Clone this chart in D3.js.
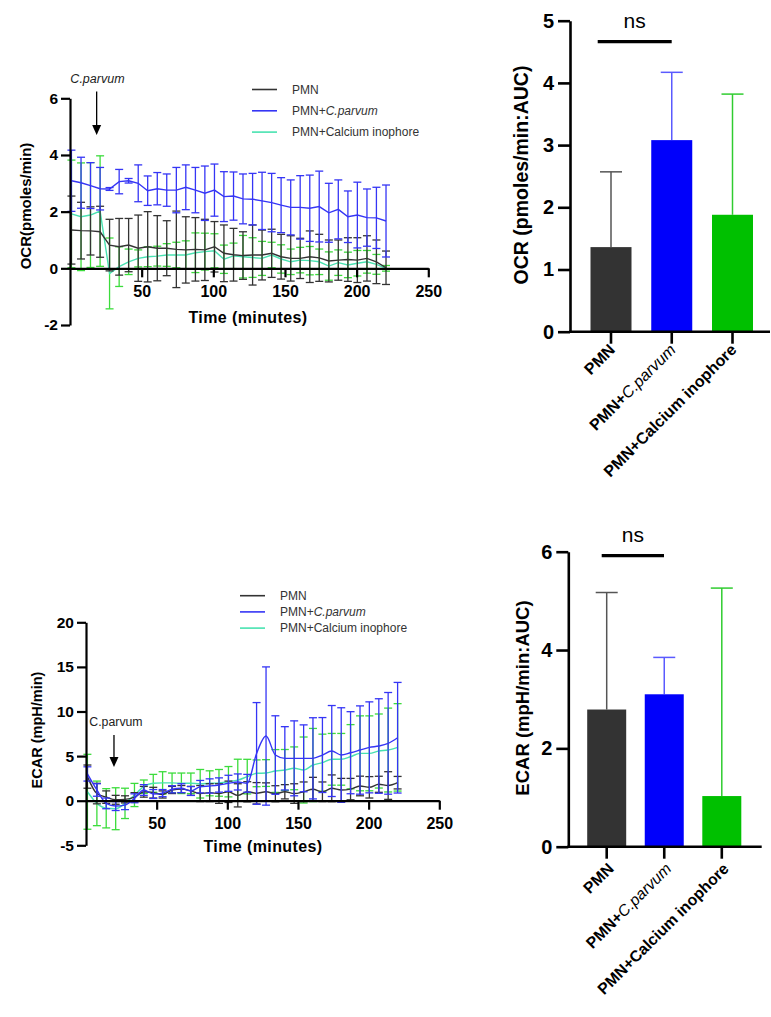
<!DOCTYPE html>
<html><head><meta charset="utf-8">
<script src="https://cdn.jsdelivr.net/npm/d3@7"></script>
<style>body{margin:0;background:#fff} svg text{font-family:"Liberation Sans",Arial,Helvetica,sans-serif}</style>
</head><body><svg id="c" width="771" height="1017"></svg>
<script>
// ---------- DATA ----------
const times = [1,7.7,14.3,21,27.6,34.3,40.9,47.6,54.2,60.9,67.5,74.2,80.8,87.5,94.1,100.8,107.4,114.1,120.7,127.4,134,140.7,147.3,154,160.6,167.3,173.9,180.6,187.2,193.9,200.5,207.2,213.8,220.5];
const seriesNames = ["PMN","PMN+C.parvum","PMN+Calcium inophore"];
const xTicks = [50,100,150,200,250];
const ocrTicks = [-2,0,2,4,6];
const ecarTicks = [-5,0,5,10,15,20];

const ocrPMN   = [1.35,1.33,1.32,1.29,0.82,0.76,0.82,0.71,0.76,0.71,0.71,0.67,0.65,0.67,0.65,0.76,0.53,0.48,0.45,0.47,0.47,0.53,0.41,0.35,0.35,0.41,0.37,0.26,0.29,0.31,0.29,0.35,0.23,0.02];
const ocrPMNsd = [1.2,1.0,0.85,0.9,0.91,1.0,0.94,1.17,1.24,1.15,0.97,1.35,1.17,1.12,1.08,0.89,1.0,0.93,0.84,1.06,0.88,0.85,0.79,0.8,0.71,0.91,0.83,0.74,0.71,0.77,0.79,0.8,0.77,0.59];
const ocrCp    = [3.09,3.02,2.92,2.81,2.80,3.06,3.09,3.0,2.74,2.81,2.76,2.76,2.86,2.76,2.65,2.76,2.53,2.55,2.45,2.44,2.38,2.32,2.23,2.15,2.15,2.12,2.18,1.96,2.08,1.82,1.88,1.79,1.78,1.67];
const ocrCpSd  = [1.08,0.9,0.81,0.75,0.05,0.43,0.08,0.65,0.52,0.57,0.57,0.8,0.79,0.8,0.96,0.92,0.88,0.85,0.88,0.91,1.01,1.03,0.97,0.97,1.12,1.17,1.25,1.04,1.04,0.91,1.16,1.01,1.08,1.27];
const ocrCa    = [1.92,1.82,1.88,2.02,-0.18,0.06,0.23,0.35,0.41,0.43,0.47,0.47,0.47,0.55,0.59,0.62,0.32,0.44,0.41,0.38,0.35,0.47,0.33,0.23,0.29,0.27,0.23,0.08,0.2,0.12,0.18,0.23,0.14,0.0];
const ocrCaSd  = [1.9,1.9,1.85,1.95,1.25,0.7,0.45,0.3,0.35,0.35,0.4,0.45,0.5,0.7,0.65,0.6,0.5,0.45,0.75,0.7,0.6,0.45,0.5,0.45,0.45,0.5,0.45,0.5,0.45,0.45,0.45,0.4,0.35,0.1];

const ecarPMN   = [2.7,0.8,0.4,0.1,0.15,0.4,1.0,0.9,0.7,1.2,1.3,1.1,0.8,0.9,0.8,1.0,0.6,1.0,0.83,1.0,0.78,1.0,0.8,1.0,1.28,1.0,1.39,1.2,1.3,1.65,1.5,1.84,1.7,2.02];
const ecarPMNsd = [1.3,1.15,0.7,0.5,0.4,0.5,0.6,0.6,0.4,0.4,0.4,0.5,0.9,1.0,1.1,1.2,1.3,1.13,1.2,1.0,0.9,0.8,1.1,1.1,1.34,1.1,1.5,1.3,1.2,1.1,1.2,0.9,1.55,0.7];
const ecarCp    = [3.0,1.2,-0.3,-0.6,-0.5,0.27,1.2,0.75,0.85,1.28,1.4,1.09,1.57,1.65,1.76,1.95,2.1,1.95,5.3,7.25,5.12,4.75,4.75,4.75,4.75,5.12,5.57,5.12,5.38,5.68,5.98,6.13,6.43,7.06];
const ecarCpSd  = [0.8,0.7,0.6,0.5,0.5,0.5,0.6,0.5,0.4,0.4,0.5,0.5,0.7,0.8,0.8,0.9,0.9,1.0,5.7,7.75,4.4,3.55,4.2,3.75,4.55,4.2,5.1,5.3,4.6,4.95,5.1,5.3,5.7,6.2];
const ecarCa    = [1.0,-0.3,-0.85,-0.9,-0.3,0.64,1.57,1.95,2.0,2.0,1.95,1.95,1.9,1.95,2.0,2.13,2.3,2.7,3.07,3.1,3.33,3.44,3.63,3.44,4.0,4.26,4.64,4.64,4.93,5.31,5.31,5.57,5.68,5.98];
const ecarCaSd  = [4.2,2.5,2.2,2.35,1.7,1.3,0.75,1.0,1.25,1.1,1.15,1.15,1.6,1.4,1.5,1.7,2.35,1.94,1.5,1.5,2.4,2.3,2.4,3.7,4.1,3.2,2.9,2.9,3.6,4.2,4.2,4.15,4.7,4.9];

const barCats = ["PMN","PMN+C.parvum","PMN+Calcium inophore"];
const ocrAUC   = [1.36,3.08,1.88];
const ocrAUCsd = [1.21,1.09,1.94];
const ocrAUCticks = [0,1,2,3,4,5];
const ecarAUC   = [2.79,3.10,1.03];
const ecarAUCsd = [2.38,0.75,4.23];
const ecarAUCticks = [0,2,4,6];

// ---------- STYLE ----------
const FONT = '"Liberation Sans",Arial,Helvetica,sans-serif';
const lineCol = ["#333333","#3535f5","#48e2b0"];
const errCol  = ["#333333","#3535f5","#3cdc3c"];
const barFill = ["#333333","#0000fb","#00c000"];
const barErr  = ["#555555","#5a5aff","#30cc30"];
const fmt = d => String(d);

const svg = d3.select("#c");

function styleAxis(g, size){
  g.attr("font-size", size).attr("font-weight","bold").attr("font-family",FONT);
  g.select(".domain").attr("stroke","#000").attr("stroke-width",2.2);
  g.selectAll(".tick line").attr("stroke","#000").attr("stroke-width",2.2);
  g.selectAll(".tick text").attr("fill","#000");
}

function catLabel(sel, name){
  if(name.indexOf("C.parvum")>=0){
    sel.append("tspan").attr("font-weight","bold").text("PMN+");
    sel.append("tspan").attr("font-style","italic").attr("font-weight","normal").text("C.parvum");
  } else sel.text(name).attr("font-weight","bold");
}

function lineChart(o){
  const x = d3.scaleLinear().domain([0,250]).range(o.xr);
  const y = d3.scaleLinear().domain(o.yd).range(o.yr);
  const g = svg.append("g");
  const order = [2,0,1];
  order.forEach(k=>{
    const s = o.series[k];
    const gg = g.append("g");
    times.forEach((t,i)=>{
      const m=s.mean[i], e=s.sd[i], cx=x(t);
      gg.append("line").attr("x1",cx).attr("x2",cx).attr("y1",y(m-e)).attr("y2",y(m+e))
        .attr("stroke",errCol[k]).attr("stroke-width",1.3);
      [m-e,m+e].forEach(v=>gg.append("line").attr("x1",cx-4).attr("x2",cx+4).attr("y1",y(v)).attr("y2",y(v))
        .attr("stroke",errCol[k]).attr("stroke-width",1.3));
    });
    gg.append("path").datum(times)
      .attr("d", d3.line().x(t=>x(t)).y((t,i)=>y(s.mean[i])).curve(o.curve))
      .attr("fill","none").attr("stroke",lineCol[k]).attr("stroke-width",1.4);
  });
  const ya = svg.append("g").attr("transform",`translate(${o.xr[0]},0)`)
    .call(d3.axisLeft(y).tickValues(o.yt).tickSize(9).tickSizeOuter(0).tickPadding(3).tickFormat(fmt));
  styleAxis(ya, o.yFont);
  const xa = svg.append("g").attr("transform",`translate(0,${y(0)})`)
    .call(d3.axisBottom(x).tickValues(xTicks).tickSize(9).tickSizeOuter(0).tickPadding(8).tickFormat(fmt));
  styleAxis(xa, 16);
  // titles
  svg.append("text").attr("transform",`translate(${o.ytx},${o.yty}) rotate(-90)`)
    .attr("text-anchor","middle").attr("font-size",o.ytFont).attr("font-weight","bold").text(o.ytitle);
  svg.append("text").attr("x",o.xtx).attr("y",o.xty).attr("text-anchor","middle")
    .attr("font-size",16).attr("font-weight","bold").attr("letter-spacing",0.4).text("Time (minutes)");
  // legend
  seriesNames.forEach((n,k)=>{
    const ly = o.leg[1] + k*o.leg[2];
    svg.append("line").attr("x1",o.leg[0]).attr("x2",o.leg[0]+25).attr("y1",ly).attr("y2",ly)
      .attr("stroke",lineCol[k]).attr("stroke-width",1.6);
    const t = svg.append("text").attr("x",o.leg[0]+40).attr("y",ly+4).attr("font-size",12).attr("fill","#333");
    if(k===1){ t.append("tspan").text("PMN+"); t.append("tspan").attr("font-style","italic").text("C.parvum"); }
    else t.text(n);
  });
  // injection arrow
  const ax = x(o.arrow.t);
  svg.append("text").attr("x",ax+o.arrow.dx).attr("y",o.arrow.ty).attr("text-anchor","middle")
    .attr("font-size",o.arrow.fs).attr("font-style",o.arrow.italic?"italic":"normal").attr("fill","#222").text("C.parvum");
  svg.append("line").attr("x1",ax).attr("x2",ax).attr("y1",o.arrow.y0).attr("y2",o.arrow.y1-8)
    .attr("stroke","#000").attr("stroke-width",1.3);
  svg.append("path").attr("d",`M${ax-4.5},${o.arrow.y1-10} L${ax+4.5},${o.arrow.y1-10} L${ax},${o.arrow.y1} Z`).attr("fill","#000");
}

function barChart(o){
  const x = d3.scalePoint().domain(barCats).range(o.cr);
  const y = d3.scaleLinear().domain(o.yd).range(o.yr);
  const g = svg.append("g");
  barCats.forEach((c,k)=>{
    const cx = x(c), m=o.mean[k], e=o.sd[k];
    g.append("line").attr("x1",cx).attr("x2",cx).attr("y1",y(m)).attr("y2",y(m+e)).attr("stroke",barErr[k]).attr("stroke-width",1.5);
    g.append("line").attr("x1",cx-11).attr("x2",cx+11).attr("y1",y(m+e)).attr("y2",y(m+e)).attr("stroke",barErr[k]).attr("stroke-width",1.5);
    g.append("rect").attr("x",cx-o.bw/2).attr("width",o.bw).attr("y",y(m)).attr("height",y(0)-y(m)).attr("fill",barFill[k]);
  });
  const ya = svg.append("g").attr("transform",`translate(${o.ax},0)`)
    .call(d3.axisLeft(y).tickValues(o.yt).tickSize(12).tickSizeOuter(0).tickPadding(4).tickFormat(fmt));
  styleAxis(ya, 20);
  ya.select(".domain").attr("stroke-width",2.6); ya.selectAll(".tick line").attr("stroke-width",2.6);
  svg.append("line").attr("x1",o.ax-1).attr("x2",o.xend).attr("y1",y(0)).attr("y2",y(0)).attr("stroke","#000").attr("stroke-width",2.6);
  barCats.forEach((c,k)=>{
    svg.append("line").attr("x1",x(c)).attr("x2",x(c)).attr("y1",y(0)).attr("y2",y(0)+12).attr("stroke","#000").attr("stroke-width",2.6);
    const t = svg.append("text").attr("transform",`translate(${x(c)+o.lab[0]},${y(0)+o.lab[1]}) rotate(-45)`)
      .attr("text-anchor","end").attr("font-size",o.labFont).attr("fill","#000");
    catLabel(t,c);
  });
  svg.append("text").attr("transform",`translate(${o.ytx},${o.yty}) rotate(-90)`)
    .attr("text-anchor","middle").attr("font-size",o.ytFont).attr("font-weight","bold").text(o.ytitle);
  // ns bracket
  svg.append("line").attr("x1",o.ns[0]).attr("x2",o.ns[1]).attr("y1",o.ns[2]).attr("y2",o.ns[2]).attr("stroke","#000").attr("stroke-width",3.2);
  svg.append("text").attr("x",(o.ns[0]+o.ns[1])/2).attr("y",o.ns[2]-14).attr("text-anchor","middle").attr("font-size",21).text("ns");
}

lineChart({
  xr:[70,428.3], yd:[-2,6], yr:[325,98.3], yt:ocrTicks, yFont:15.5, curve:d3.curveLinear,
  series:[{mean:ocrPMN,sd:ocrPMNsd},{mean:ocrCp,sd:ocrCpSd},{mean:ocrCa,sd:ocrCaSd}],
  ytitle:"OCR(pmoles/min)", ytx:30.5, yty:206, ytFont:15, xtx:248, xty:323,
  leg:[252,89.5,21.3], arrow:{t:18.6,dx:0.8,ty:83,fs:12.5,italic:true,y0:91.5,y1:135}
});
lineChart({
  xr:[86,439.3], yd:[-5,20], yr:[845.3,622.3], yt:ecarTicks, yFont:15.5, curve:d3.curveMonotoneX,
  series:[{mean:ecarPMN,sd:ecarPMNsd},{mean:ecarCp,sd:ecarCpSd},{mean:ecarCa,sd:ecarCaSd}],
  ytitle:"ECAR (mpH/min)", ytx:41.5, yty:730, ytFont:14.5, xtx:263, xty:852,
  leg:[240,595.7,16.2], arrow:{t:19.8,dx:2,ty:726,fs:12.3,italic:false,y0:735,y1:767}
});
barChart({
  cr:[611,732.5], bw:41, yd:[0,5], yr:[331.7,20.7], yt:ocrAUCticks, ax:570, xend:770,
  mean:ocrAUC, sd:ocrAUCsd, lab:[5,19], labFont:16,
  ytitle:"OCR (pmoles/min:AUC)", ytx:528, yty:175, ytFont:19.5, ns:[597.7,671.7,41.7]
});
barChart({
  cr:[606.7,721.8], bw:39, yd:[0,6], yr:[846.7,551.7], yt:ecarAUCticks, ax:568.3, xend:761.7,
  mean:ecarAUC, sd:ecarAUCsd, lab:[8,23], labFont:15.8,
  ytitle:"ECAR (mpH/min:AUC)", ytx:529, yty:698, ytFont:18.5, ns:[601.7,664,555.7]
});
</script></body></html>
